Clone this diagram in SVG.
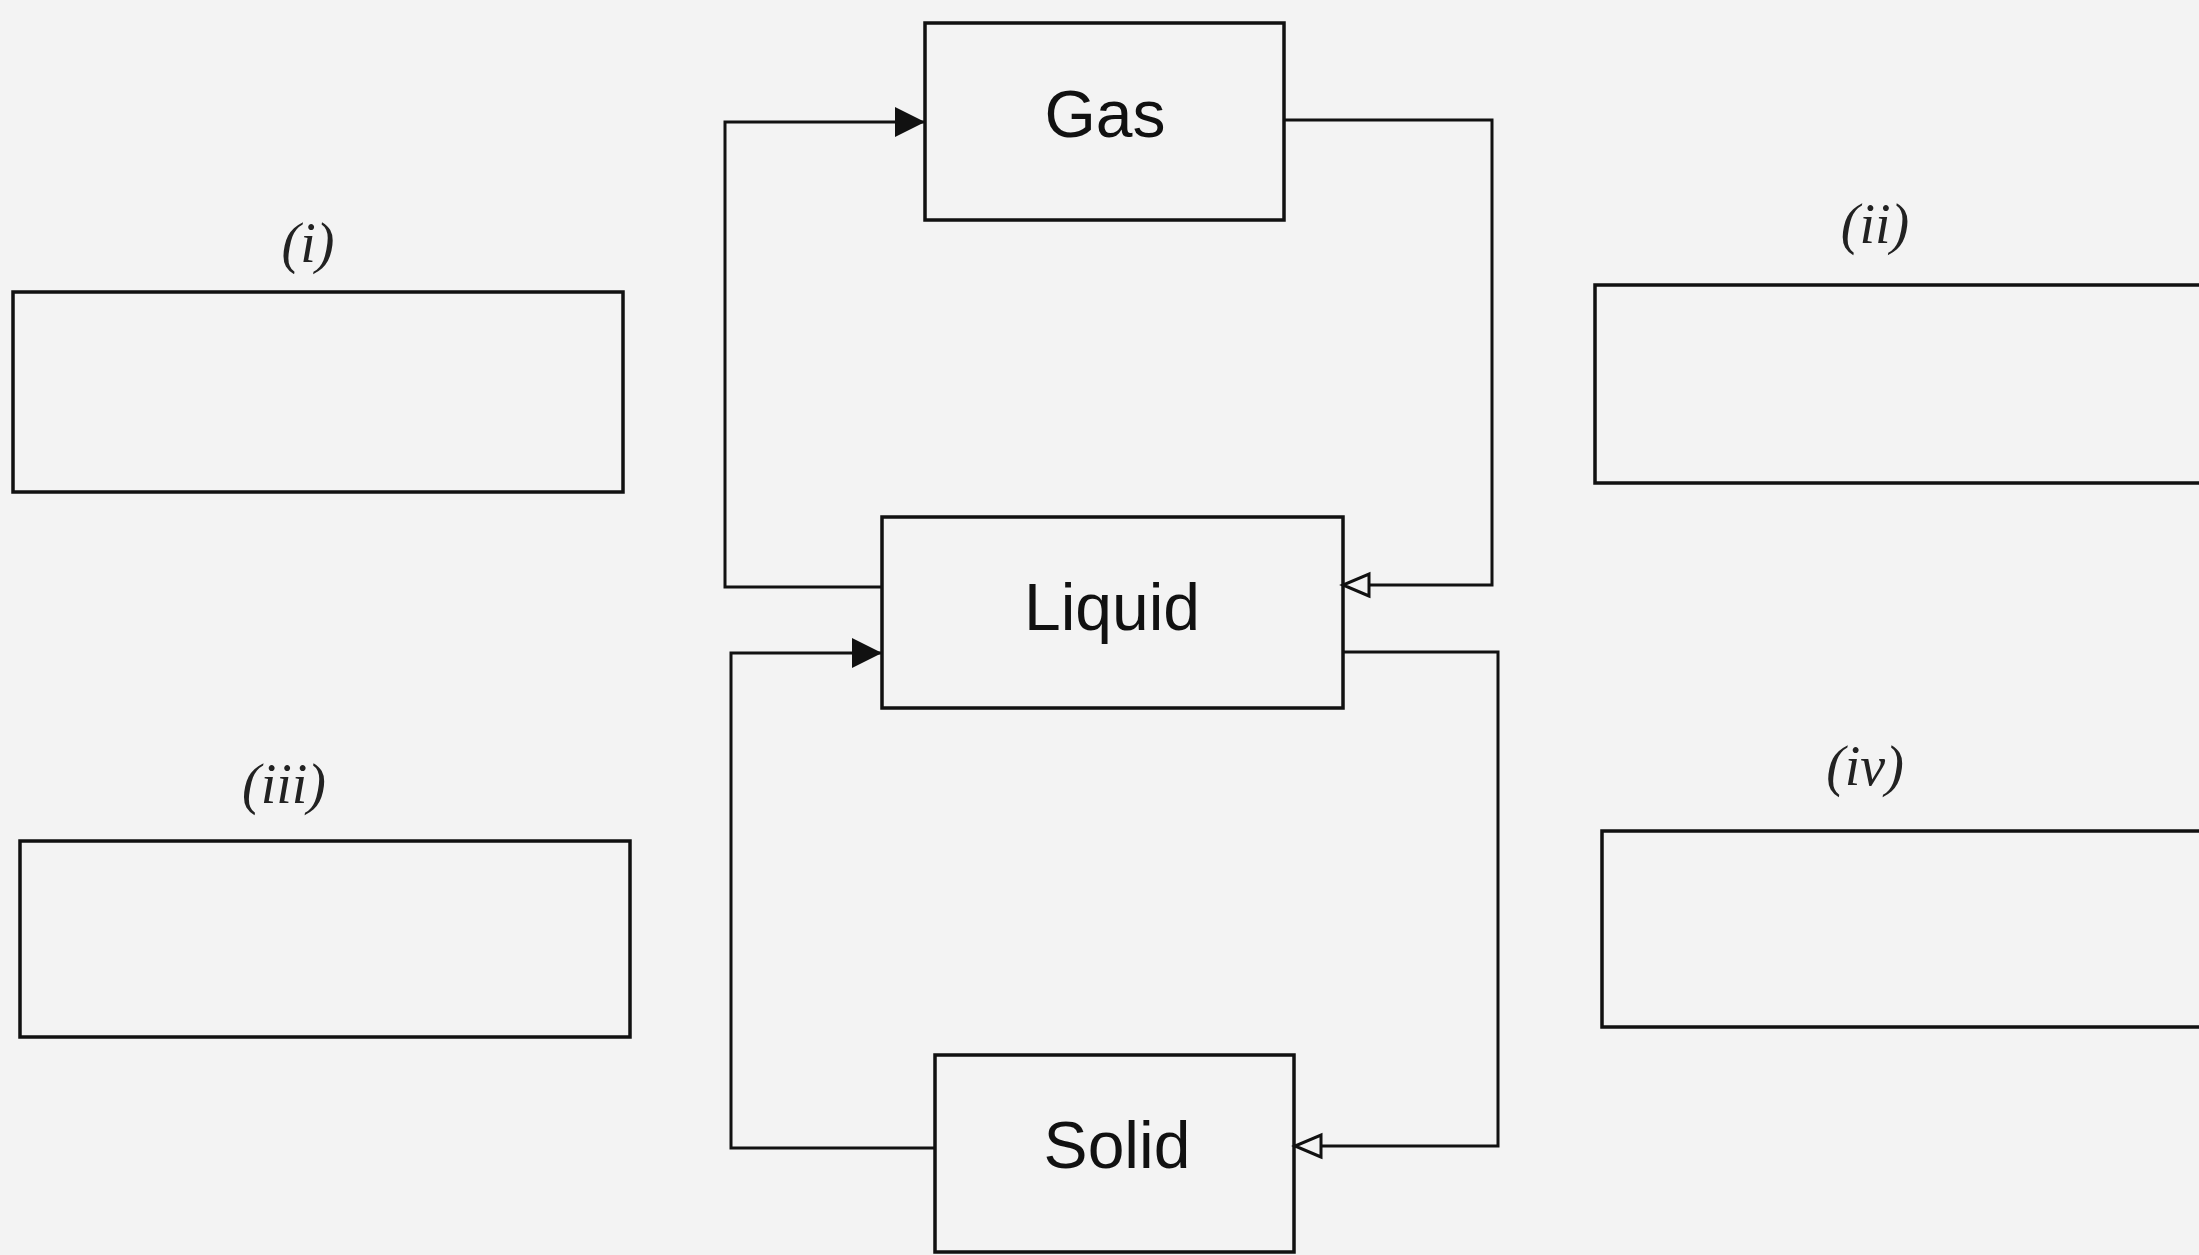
<svg xmlns="http://www.w3.org/2000/svg" width="2199" height="1255" viewBox="0 0 2199 1255">
<style>
.box{fill:none;stroke:#111;stroke-width:3.5}
.conn{fill:none;stroke:#111;stroke-width:3}
.name{font-family:"Liberation Sans",Arial,sans-serif;font-size:66px;fill:#111;text-anchor:middle}
.lab{font-family:"Liberation Serif","Times New Roman",serif;font-style:italic;font-size:56px;fill:#222;text-anchor:middle}
</style>
<defs>
<marker id="solid" markerUnits="userSpaceOnUse" markerWidth="32" markerHeight="32" refX="30" refY="15" orient="auto">
<path d="M0,0 L30,15 L0,30 z" fill="#111"/>
</marker>
<marker id="open" markerUnits="userSpaceOnUse" markerWidth="34" markerHeight="30" refX="30" refY="14" orient="auto">
<path d="M4,3 L30,14 L4,25 z" fill="#f3f3f3" stroke="#111" stroke-width="3" stroke-linejoin="miter"/>
</marker>
</defs>
<rect width="2199" height="1255" fill="#f3f3f3"/>
<g id="connectors">
<path class="conn" d="M882,587 H725 V122 H925" marker-end="url(#solid)"/>
<path class="conn" d="M1284,120 H1492 V585 H1343" marker-end="url(#open)"/>
<path class="conn" d="M935,1148 H731 V653 H882" marker-end="url(#solid)"/>
<path class="conn" d="M1343,652 H1498 V1146 H1295" marker-end="url(#open)"/>
</g>
<g id="gas">
<rect class="box" x="925" y="23" width="359" height="197"/>
<text class="name" x="1105" y="137">Gas</text>
</g>
<g id="liquid">
<rect class="box" x="882" y="517" width="461" height="191"/>
<text class="name" x="1112" y="630">Liquid</text>
</g>
<g id="solid-node">
<rect class="box" x="935" y="1055" width="359" height="197"/>
<text class="name" x="1117" y="1168">Solid</text>
</g>
<g id="box-i">
<text class="lab" x="308" y="262">(i)</text>
<rect class="box" x="13" y="292" width="610" height="200"/>
</g>
<g id="box-ii">
<text class="lab" x="1875" y="243">(ii)</text>
<rect class="box" x="1595" y="285" width="620" height="198"/>
</g>
<g id="box-iii">
<text class="lab" x="284" y="803">(iii)</text>
<rect class="box" x="20" y="841" width="610" height="196"/>
</g>
<g id="box-iv">
<text class="lab" x="1865" y="785">(iv)</text>
<rect class="box" x="1602" y="831" width="620" height="196"/>
</g>
</svg>
